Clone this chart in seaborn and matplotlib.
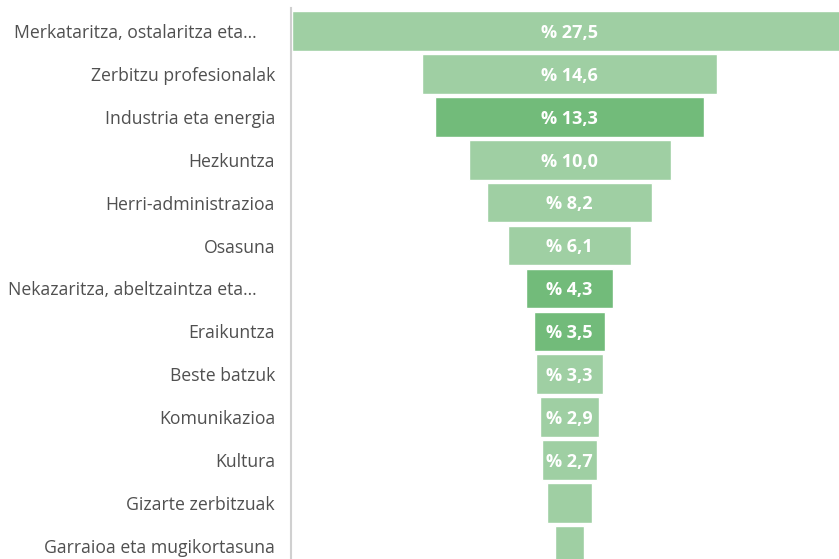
import matplotlib
matplotlib.use("Agg")
import matplotlib.pyplot as plt
import seaborn as sns
import pandas as pd

# Sector shares (%), funnel order
sectors = [
    "Merkataritza, ostalaritza eta...    ",
    "Zerbitzu profesionalak",
    "Industria eta energia",
    "Hezkuntza",
    "Herri-administrazioa",
    "Osasuna",
    "Nekazaritza, abeltzaintza eta...    ",
    "Eraikuntza",
    "Beste batzuk",
    "Komunikazioa",
    "Kultura",
    "Gizarte zerbitzuak",
    "Garraioa eta mugikortasuna",
]
shares = [27.5, 14.6, 13.3, 10.0, 8.2, 6.1, 4.3, 3.5, 3.3, 2.9, 2.7, 2.2, 1.4]
highlight = [False, False, True, False, False, False, True, True, False, False, False, False, False]

LIGHT = "#9fcfa3"
DARK = "#72bb7a"

sns.set_theme(style="white")
plt.rcParams["font.family"] = ["Open Sans", "DejaVu Sans"]

df = pd.DataFrame({"sector": sectors, "share": shares})
colors = [DARK if h else LIGHT for h in highlight]

fig = plt.figure(figsize=(8.39, 5.59), dpi=100)
ax = fig.add_axes([291 / 839, 0, 548 / 839, 1 - 8 / 559])

sns.barplot(data=df, x="share", y="sector", hue="sector", palette=colors,
            saturation=1, legend=False, width=0.92, edgecolor="white",
            linewidth=1, ax=ax)

# centre every bar to get the funnel shape
for patch, v in zip(ax.patches, shares):
    patch.set_x(-v / 2)

for i, v in enumerate(shares):
    if v >= 2.5:
        ax.text(0, i + 0.04, f"% {v:.1f}".replace(".", ","), ha="center", va="center",
                color="white", fontsize=13, fontweight="bold")

ax.set_xlim(-13.79, 13.34)
ax.set_ylim(12.31, -0.54)
ax.set_xlabel("")
ax.set_ylabel("")
ax.set_xticks([])
ax.tick_params(axis="y", length=0, pad=11.5, labelsize=12.7, labelcolor="#505050")
for s in ["top", "right", "bottom"]:
    ax.spines[s].set_visible(False)
ax.spines["left"].set_color("#d0d0d0")
ax.spines["left"].set_linewidth(1.5)

fig.savefig("out.png", dpi=100)
